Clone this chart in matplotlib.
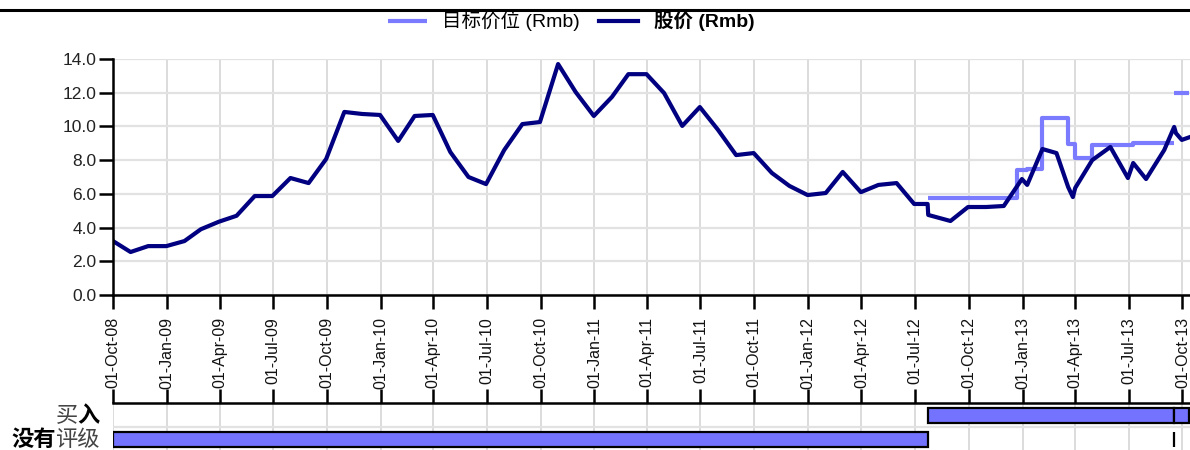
import matplotlib
matplotlib.use('Agg')
import matplotlib.pyplot as plt
import matplotlib.dates as mdates
import pandas as pd
from matplotlib.lines import Line2D

# 股价 (monthly closes plus a few event dates)
price_dates = ['2008-10-01', '2008-10-31', '2008-11-30', '2008-12-31',
               '2009-01-31', '2009-02-28', '2009-03-31', '2009-04-30', '2009-05-31', '2009-06-30',
               '2009-07-31', '2009-08-31', '2009-09-30', '2009-10-31', '2009-11-30', '2009-12-31',
               '2010-01-31', '2010-02-28', '2010-03-31', '2010-04-30', '2010-05-31', '2010-06-30',
               '2010-07-31', '2010-08-31', '2010-09-30', '2010-10-31', '2010-11-30', '2010-12-31',
               '2011-01-31', '2011-02-28', '2011-03-31', '2011-04-30', '2011-05-31', '2011-06-30',
               '2011-07-31', '2011-08-31', '2011-09-30', '2011-10-31', '2011-11-30', '2011-12-31',
               '2012-01-31', '2012-02-29', '2012-03-31', '2012-04-30', '2012-05-31', '2012-06-30',
               '2012-07-23', '2012-07-24', '2012-08-31', '2012-09-30', '2012-10-31', '2012-11-30',
               '2012-12-31', '2013-01-09', '2013-02-04', '2013-02-28', '2013-03-20', '2013-03-28',
               '2013-04-01', '2013-04-30', '2013-05-31', '2013-06-30', '2013-07-09', '2013-07-31',
               '2013-08-31', '2013-09-17', '2013-09-20', '2013-09-30', '2013-10-14']
price_values = [3.2, 2.55, 2.9, 2.9,
                3.2, 3.9, 4.35, 4.7, 5.87, 5.87, 6.94, 6.64, 8.07, 10.86, 10.74, 10.68,
                9.14, 10.62, 10.68, 8.48, 7.0, 6.58, 8.6, 10.14, 10.26, 13.7, 12.04, 10.62,
                11.75, 13.1, 13.1, 11.98, 10.03, 11.15, 9.8, 8.3, 8.42, 7.24, 6.47, 5.93,
                6.05, 7.3, 6.1, 6.53, 6.64, 5.4, 5.4, 4.75, 4.39, 5.22, 5.22, 5.28, 6.88,
                6.53, 8.66, 8.42, 6.4, 5.81, 6.35, 8.0, 8.78, 6.94, 7.83, 6.88, 8.6,
                9.97, 9.6, 9.2, 9.37]

# 目标价位 (two coverage periods)
target_dates = ['2012-07-24', '2012-12-23', '2013-01-09', '2013-02-04', '2013-03-20',
                '2013-04-01', '2013-04-30', '2013-07-09', '2013-09-17']
target_values = [5.75, 7.4, 7.5, 10.5, 8.95, 8.1, 8.9, 9.0, 9.0]
target2_dates = ['2013-09-17', '2013-10-13']
target2_values = [12.0, 12.0]

# 评级 periods
rating_rows = ['没有评级', '买入']
rating_names = ['没有评级', '买入', '没有评级', '买入']
rating_starts = ['2008-10-01', '2012-07-24', '2013-09-17', '2013-09-17']
rating_ends = ['2012-07-24', '2013-09-17', '2013-09-17', '2013-10-13']

NARROW = ['Liberation Sans', 'DejaVu Sans']
CJK = ['Noto Sans CJK SC', 'DejaVu Sans']
MIX = ['Liberation Sans', 'Noto Sans CJK SC', 'DejaVu Sans']

price_col = '#000080'
target_col = '#7b7bff'
bar_col = '#7373ff'
grid_col = '#d9d9d9'

fig = plt.figure(figsize=(11.9, 4.5), dpi=100)
W, H = 1190.0, 450.0
left, right = 113 / W, 1.0
ax = fig.add_axes([left, 1 - 295 / H, right - left, (295 - 59) / H])
ax2 = fig.add_axes([left, 0, right - left, (450 - 403) / H])

pd_price = pd.to_datetime(price_dates)
ax.plot(pd.to_datetime(target_dates), target_values, drawstyle='steps-post',
        color=target_col, lw=3, label='目标价位 (Rmb)', solid_capstyle='butt')
ax.plot(pd.to_datetime(target2_dates), target2_values, drawstyle='steps-post',
        color=target_col, lw=3, solid_capstyle='butt')
ax.plot(pd_price, price_values, color=price_col, lw=3, label='股价 (Rmb)')

xmin = pd.Timestamp('2008-10-01')
xmax = pd.Timestamp('2013-10-14')
for a in (ax, ax2):
    a.set_xlim(xmin, xmax)
    a.xaxis.set_major_locator(mdates.MonthLocator(bymonth=[1, 4, 7, 10], bymonthday=1))
    a.grid(True, axis='x', color=grid_col, lw=1.3)
    a.set_axisbelow(True)

ax.set_ylim(0, 14)
ax.set_yticks([0, 2, 4, 6, 8, 10, 12, 14])
ax.set_yticklabels([f'{v:.1f}' for v in ax.get_yticks()], fontfamily=NARROW, fontsize=12.5, color='#222222')
ax.grid(True, axis='y', color='#e2e2e2', lw=1.6)
ax.xaxis.set_major_formatter(mdates.DateFormatter('%d-%b-%y'))
for lab in ax.get_xticklabels():
    lab.set_rotation(90)
    lab.set_fontfamily(NARROW)
    lab.set_fontsize(11.5)
    lab.set_color('#111111')
ax.tick_params(axis='both', length=10, width=1.8, color='black')
ax.tick_params(axis='x', pad=6)
ax.tick_params(axis='y', pad=2)
for s in ('top', 'right'):
    ax.spines[s].set_visible(False)
for s in ('left', 'bottom'):
    ax.spines[s].set_linewidth(1.8)

# rating strip
ypos = {name: i for i, name in enumerate(rating_rows)}
for name, s, e in zip(rating_names, rating_starts, rating_ends):
    s_num = mdates.date2num(pd.Timestamp(s))
    e_num = mdates.date2num(pd.Timestamp(e))
    w = max(e_num - s_num, 0.5)
    ax2.barh(ypos[name], w, left=s_num, height=0.6, color=bar_col,
             edgecolor='black', linewidth=1.6)
ax2.set_ylim(-0.42, 1.5)
ax2.set_yticks([0.5], minor=True)
ax2.set_yticks([])
ax2.grid(True, axis='y', which='minor', color='#e2e2e2', lw=1.6)
ax2.tick_params(axis='y', which='both', left=False, labelleft=False)
ax2.tick_params(axis='x', top=True, bottom=False, labeltop=False, labelbottom=False,
                length=10, width=1.8, direction='out')
for s in ('left', 'right', 'bottom'):
    ax2.spines[s].set_visible(False)
ax2.spines['top'].set_linewidth(1.8)

# row labels, mixed weights
lx = -13 / (W - 113)
t = ax2.text(lx, 1, '入', transform=ax2.get_yaxis_transform(), ha='right', va='center',
             fontfamily=CJK, fontsize=16, fontweight='bold', color='black')
ax2.annotate('买', xy=(0, 0.5), xycoords=t, ha='right', va='center',
             fontfamily=CJK, fontsize=16, color='#444444')
t = ax2.text(lx, 0, '评级', transform=ax2.get_yaxis_transform(), ha='right', va='center',
             fontfamily=CJK, fontsize=16, color='#444444')
ax2.annotate('没有', xy=(0, 0.5), xycoords=t, ha='right', va='center',
             fontfamily=CJK, fontsize=16, fontweight='bold', color='black')
for txt in ax2.texts:
    txt.set_clip_on(False)

# legend at top
leg = fig.legend(loc='center', bbox_to_anchor=(0.48, 1 - 21 / H), ncol=2, frameon=False,
                 handlelength=2.0, handletextpad=0.8, columnspacing=1.0,
                 prop={'family': MIX, 'size': 14})
leg.get_texts()[1].set_fontweight('bold')

# header rule
fig.add_artist(Line2D([0, 1], [1 - 10 / H, 1 - 10 / H], transform=fig.transFigure,
                      color='black', lw=2.2))

fig.savefig('out.png', dpi=100)
